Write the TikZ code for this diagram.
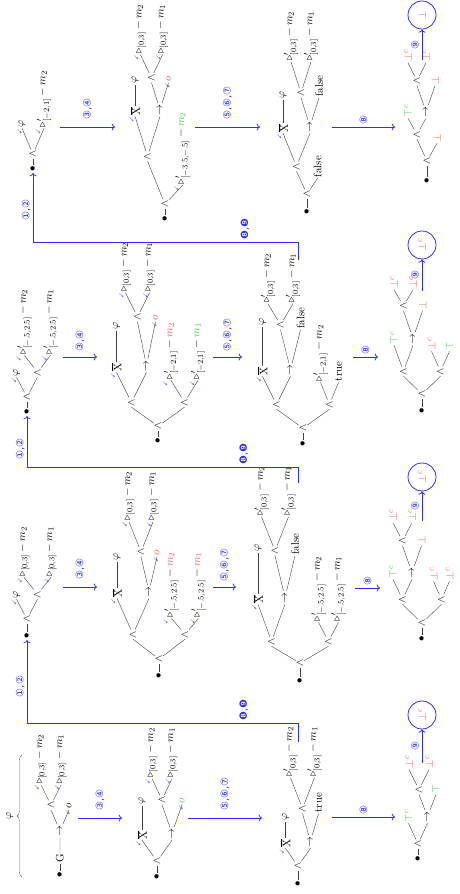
\documentclass[11pt,tikz,border=0pt]{standalone}
\usepackage{amsmath,amssymb}
\usepackage{fontspec}
\newfontfamily\circfont{DejaVu Sans}
\usetikzlibrary{arrows.meta,decorations.pathreplacing}
\definecolor{vblue}{RGB}{45,45,250}
\definecolor{vred}{RGB}{245,85,85}
\definecolor{vgreen}{RGB}{70,195,70}

\newcommand{\mlf}[2]{$\triangleright_{#1}-#2$}
\newcommand{\mlfp}[2]{$\triangleright'_{#1}-#2$}
\newcommand{\nxt}{$\overline{\mathrm{X}}$}

\tikzset{
  tn/.style={anchor=west, inner sep=1pt},
  every child node/.style={tn},
  edge from parent/.style={draw, black!75},
  child anchor=west,
  ld/.style={level distance=#1pt},
  sd/.style={sibling distance=#1pt},
  tk/.style={label={[text=vblue, inner sep=0pt, font=\tiny]north west:$\checkmark$}},
  flow/.style={draw=vblue, thick, ->},
  steplab/.style={text=vblue, font=\circfont\small, inner sep=1pt},
  res/.style={circle, draw=vblue, thick, minimum size=28pt, inner sep=0pt, text=vred},
}

\begin{document}
\begin{tikzpicture}[x=1pt, y=-1pt, rotate=90, transform shape, grow'=right]
\useasboundingbox (0,0) rectangle (894,460);

% first run
\draw[black!60, decorate, decoration={brace, amplitude=5pt}]
  (17,22) -- (139,22) node[midway, above=5pt, text=black] (phibr) {$\varphi$};
\node[tn] (a1) at (15,60) {$\bullet$} [ld=11]
  child {node {$\mathrm{G}$} [ld=21]
    child {node {$\rightarrow$} [ld=21, sd=18]
      child {node {$\wedge$} [ld=20, sd=20]
        child {node[tk] {\mlf{[0,3]}{m_2}}}
        child {node[tk] {\mlf{[0,3]}{m_1}}}}
      child {node[tk] {$o$}}}};
\node[tn] (a2) at (13,157) {$\bullet$} [ld=11]
  child {node {$\wedge$} [ld=21, sd=30]
    child {node[tk] {\nxt} [ld=29] child {node {$\varphi$}}}
    child {node {$\rightarrow$} [ld=29, sd=20]
      child {node {$\wedge$} [ld=21, sd=20]
        child {node[tk] {\mlf{[0,3]}{m_2}}}
        child {node[tk] {\mlf{[0,3]}{m_1}}}}
      child {node[tk, text=vgreen] {$o$}}}};
\node[tn] (a3) at (6,298) {$\bullet$} [ld=13]
  child {node {$\wedge$} [ld=18, sd=25]
    child {node[tk] {\nxt} [ld=21] child {node {$\varphi$}}}
    child {node {$\rightarrow$} [ld=28, sd=16]
      child {node {$\wedge$} [ld=31, sd=24]
        child {node {\mlfp{[0,3]}{m_2}}}
        child {node {\mlfp{[0,3]}{m_1}}}}
      child {node {true}}}};
\node[tn] (a4) at (31,418) {$\bullet$} [ld=10]
  child {node {$\wedge$} [ld=21, sd=19]
    child {node[text=vgreen] {$\top^c$}}
    child {node {$\rightarrow$} [ld=22, sd=17]
      child {node {$\wedge$} [ld=20, sd=20]
        child {node[text=vred] {$\bot^c$}}
        child {node[text=vred] {$\bot^c$}}}
      child {node[text=vgreen] {$\top$}}}};

\coordinate (a1s) at (76,78);  \coordinate (a2n) at (76,122);
\draw[flow] (a1s) -- node[steplab, right=6pt] (la34) {③,④} (a2n);
\coordinate (a2s) at (76,188); \coordinate (a3n) at (76,262);
\draw[flow] (a2s) -- node[steplab, right=6pt] (la57) {⑤,⑥,⑦} (a3n);
\coordinate (a3s) at (77,332); \coordinate (a4n) at (77,395);
\draw[flow] (a3s) -- node[steplab, right=1pt] (la8) {⑧} (a4n);
\coordinate (a4e) at (131,422);
\node[res] (ra) at (179,422) {$\bot^c$};
\draw[flow] (a4e) -- node[steplab, above=2pt] (la9) {⑨} (ra);

% second run
\node[tn] (b1) at (254,27) {$\bullet$} [ld=12]
  child {node {$\wedge$} [ld=20, sd=21]
    child {node[tk] {$\varphi$}}
    child {node {$\wedge$} [ld=17, sd=27]
      child {node[tk] {\mlf{[0,3]}{m_2}}}
      child {node[tk] {\mlf{[0,3]}{m_1}}}}};
\node[tn] (b2) at (214,159) {$\bullet$} [ld=12]
  child {node {$\wedge$} [ld=20, sd=52]
    child {node {$\wedge$} [ld=36, sd=32]
      child {node[tk] {\nxt} [ld=31] child {node {$\varphi$}}}
      child {node {$\rightarrow$} [ld=35, sd=16]
        child {node {$\wedge$} [ld=30, sd=24]
          child {node[tk] {\mlf{[0,3]}{m_2}}}
          child {node[tk] {\mlf{[0,3]}{m_1}}}}
        child {node[tk, text=vred] {$o$}}}}
    child {node {$\wedge$} [ld=16, sd=27]
      child {node[tk] {\mlfp{[-.5,2.5]}{\textcolor{vred}{m_2}}}}
      child {node[tk] {\mlfp{[-.5,2.5]}{\textcolor{vred}{m_1}}}}}};
\node[tn] (b3) at (209,300) {$\bullet$} [ld=13]
  child {node {$\wedge$} [ld=17, sd=57]
    child {node {$\wedge$} [ld=37, sd=27]
      child {node[tk] {\nxt} [ld=46] child {node {$\varphi$}}}
      child {node {$\rightarrow$} [ld=42, sd=20]
        child {node {$\wedge$} [ld=34, sd=27]
          child {node {\mlfp{[0,3]}{m_2}}}
          child {node {\mlfp{[0,3]}{m_1}}}}
        child {node {false}}}}
    child {node {$\wedge$} [ld=19, sd=20]
      child {node {\mlfp{[-.5,2.5]}{m_2}}}
      child {node {\mlfp{[-.5,2.5]}{m_1}}}}};
\node[tn] (b4) at (251,422) {$\bullet$} [ld=11]
  child {node {$\wedge$} [ld=19, sd=39]
    child {node {$\wedge$} [ld=20, sd=19]
      child {node[text=vgreen] {$\top^c$}}
      child {node {$\rightarrow$} [ld=27, sd=19]
        child {node {$\wedge$} [ld=18, sd=19]
          child {node[text=vred] {$\bot^c$}}
          child {node[text=vred] {$\bot^c$}}}
        child {node[text=vred] {$\bot$}}}}
    child {node {$\wedge$} [ld=18, sd=16]
      child {node[text=vred] {$\bot^c$}}
      child {node[text=vred] {$\bot^c$}}}};

\coordinate (b1s) at (307,63);  \coordinate (b2n) at (307,97);
\draw[flow] (b1s) -- node[steplab, right=6pt] (lb34) {③,④} (b2n);
\coordinate (b2s) at (307,213); \coordinate (b3n) at (307,236);
\draw[flow] (b2s) -- node[steplab, right=4pt] (lb57) {⑤,⑥,⑦} (b3n);
\coordinate (b3s) at (306,355); \coordinate (b4n) at (306,380);
\draw[flow] (b3s) -- node[steplab, right=1pt] (lb8) {⑧} (b4n);
\coordinate (b4e) at (373,422);
\node[res] (rb) at (417,422) {$\bot^c$};
\draw[flow] (b4e) -- node[steplab, above=2pt] (lb9) {⑨} (rb);

% third run
\node[tn] (c1) at (478,27) {$\bullet$} [ld=10]
  child {node {$\wedge$} [ld=20, sd=21]
    child {node[tk] {$\varphi$}}
    child {node {$\wedge$} [ld=17, sd=26]
      child {node[tk] {\mlfp{[-.5,2.5]}{m_2}}}
      child {node[tk] {\mlfp{[-.5,2.5]}{m_1}}}}};
\node[tn] (c2) at (449,158) {$\bullet$} [ld=10]
  child {node {$\wedge$} [ld=19, sd=53]
    child {node {$\wedge$} [ld=30, sd=30]
      child {node[tk] {\nxt} [ld=36] child {node {$\varphi$}}}
      child {node {$\rightarrow$} [ld=44, sd=18]
        child {node {$\wedge$} [ld=24, sd=24]
          child {node[tk] {\mlf{[0,3]}{m_2}}}
          child {node[tk] {\mlf{[0,3]}{m_1}}}}
        child {node[tk, text=vred] {$o$}}}}
    child {node {$\wedge$} [ld=22, sd=27]
      child {node[tk] {\mlfp{[-2,1]}{\textcolor{vred}{m_2}}}}
      child {node[tk] {\mlfp{[-2,1]}{\textcolor{vgreen}{m_1}}}}}};
\node[tn] (c3) at (446,303) {$\bullet$} [ld=11]
  child {node {$\wedge$} [ld=19, sd=53]
    child {node {$\wedge$} [ld=28, sd=28]
      child {node[tk] {\nxt} [ld=44] child {node {$\varphi$}}}
      child {node {$\rightarrow$} [ld=40, sd=20]
        child {node {$\wedge$} [ld=21, sd=25]
          child {node {\mlfp{[0,3]}{m_2}}}
          child {node {\mlfp{[0,3]}{m_1}}}}
        child {node {false}}}}
    child {node {$\wedge$} [ld=22, sd=18]
      child {node {\mlfp{[-2,1]}{m_2}}}
      child {node {true}}}};
\node[tn] (c4) at (479,422) {$\bullet$} [ld=12]
  child {node {$\wedge$} [ld=18, sd=37]
    child {node {$\wedge$} [ld=26, sd=19]
      child {node[text=vgreen] {$\top^c$}}
      child {node {$\rightarrow$} [ld=28, sd=19]
        child {node {$\wedge$} [ld=16, sd=19]
          child {node[text=vred] {$\bot^c$}}
          child {node[text=vred] {$\bot^c$}}}
        child {node[text=vred] {$\bot$}}}}
    child {node {$\wedge$} [ld=20, sd=18]
      child {node[text=vred] {$\bot^c$}}
      child {node[text=vgreen] {$\top$}}}};

\coordinate (c1s) at (537,63);  \coordinate (c2n) at (537,97);
\draw[flow] (c1s) -- node[steplab, right=4pt] (lc34) {③,④} (c2n);
\coordinate (c2s) at (537,213); \coordinate (c3n) at (537,242);
\draw[flow] (c2s) -- node[steplab, right=4pt] (lc57) {⑤,⑥,⑦} (c3n);
\coordinate (c3s) at (537,353); \coordinate (c4n) at (537,378);
\draw[flow] (c3s) -- node[steplab, right=1pt] (lc8) {⑧} (c4n);
\coordinate (c4e) at (603,422);
\node[res] (rc) at (649,422) {$\bot^c$};
\draw[flow] (c4e) -- node[steplab, above=2pt] (lc9) {⑨} (rc);

% fourth run
\node[tn] (d1) at (721,33) {$\bullet$} [ld=10]
  child {node {$\wedge$} [ld=26, sd=22]
    child {node[tk] {$\varphi$}}
    child {node[tk] {\mlfp{[-2,1]}{m_2}}}};
\node[tn] (d2) at (671,165) {$\bullet$} [ld=10]
  child {node {$\wedge$} [sd=35]
    child[ld=43] {node {$\wedge$} [ld=40, sd=25]
      child {node[tk] {\nxt} [ld=26] child {node {$\varphi$}}}
      child {node {$\rightarrow$} [ld=27, sd=17]
        child {node {$\wedge$} [ld=23, sd=22]
          child {node[tk] {\mlf{[0,3]}{m_2}}}
          child {node[tk] {\mlf{[0,3]}{m_1}}}}
        child {node[tk, text=vred] {$o$}}}}
    child[ld=19] {node[tk] {\mlfp{[-3.5,-.5]}{\textcolor{vgreen}{m_2}}}}};
\node[tn] (d3) at (678,307) {$\bullet$} [ld=13]
  child {node {$\wedge$} [sd=21]
    child[ld=23] {node {$\wedge$} [ld=33, sd=27]
      child {node[tk] {\nxt} [ld=28] child {node {$\varphi$}}}
      child {node {$\rightarrow$} [ld=29, sd=18]
        child {node {$\wedge$} [ld=31, sd=20]
          child {node {\mlfp{[0,3]}{m_2}}}
          child {node {\mlfp{[0,3]}{m_1}}}}
        child {node {false}}}}
    child[ld=16] {node {false}}};
\node[tn] (d4) at (709,427) {$\bullet$} [ld=15]
  child {node {$\wedge$} [ld=22, sd=20]
    child {node {$\wedge$} [ld=16, sd=18]
      child {node[text=vgreen] {$\top^c$}}
      child {node {$\rightarrow$} [ld=26, sd=18]
        child {node {$\wedge$} [ld=18, sd=18]
          child {node[text=vred] {$\bot^c$}}
          child {node[text=vred] {$\bot^c$}}}
        child {node[text=vred] {$\bot$}}}}
    child[ld=18] {node[text=vred] {$\bot$}}};

\coordinate (d1s) at (767,60);  \coordinate (d2n) at (767,115);
\draw[flow] (d1s) -- node[steplab, right=6pt] (ld34) {③,④} (d2n);
\coordinate (d2s) at (767,195); \coordinate (d3n) at (767,260);
\draw[flow] (d2s) -- node[steplab, right=6pt] (ld57) {⑤,⑥,⑦} (d3n);
\coordinate (d3s) at (767,332); \coordinate (d4n) at (767,395);
\draw[flow] (d3s) -- node[steplab, right=1pt] (ld8) {⑧} (d4n);
\coordinate (d4e) at (834,422);
\node[res] (rd) at (879,422) {$\bot$};
\draw[flow] (d4e) -- node[steplab, above=2pt] (ld9) {⑨} (rd);

% back to the next run
\coordinate (a3o) at (152,298);
\draw[flow] (a3o) -- ++(19,0) |- node[pos=0.1, steplab, right=1pt] (lab89) {❽,❾}
  node[pos=0.72, steplab, above=1pt] (lab12) {①,②} (b1);
\coordinate (b3o) at (411,298);
\draw[flow] (b3o) -- ++(16,0) |- node[pos=0.1, steplab, right=1pt] (lbc89) {❽,❾}
  node[pos=0.68, steplab, above=1pt] (lbc12) {①,②} (c1);
\coordinate (c3o) at (634,298);
\draw[flow] (c3o) -- ++(18,0) |- node[pos=0.1, steplab, right=1pt] (lcd89) {❽,❾}
  node[pos=0.73, steplab, above=1pt] (lcd12) {①,②} (d1);
\end{tikzpicture}
\end{document}
